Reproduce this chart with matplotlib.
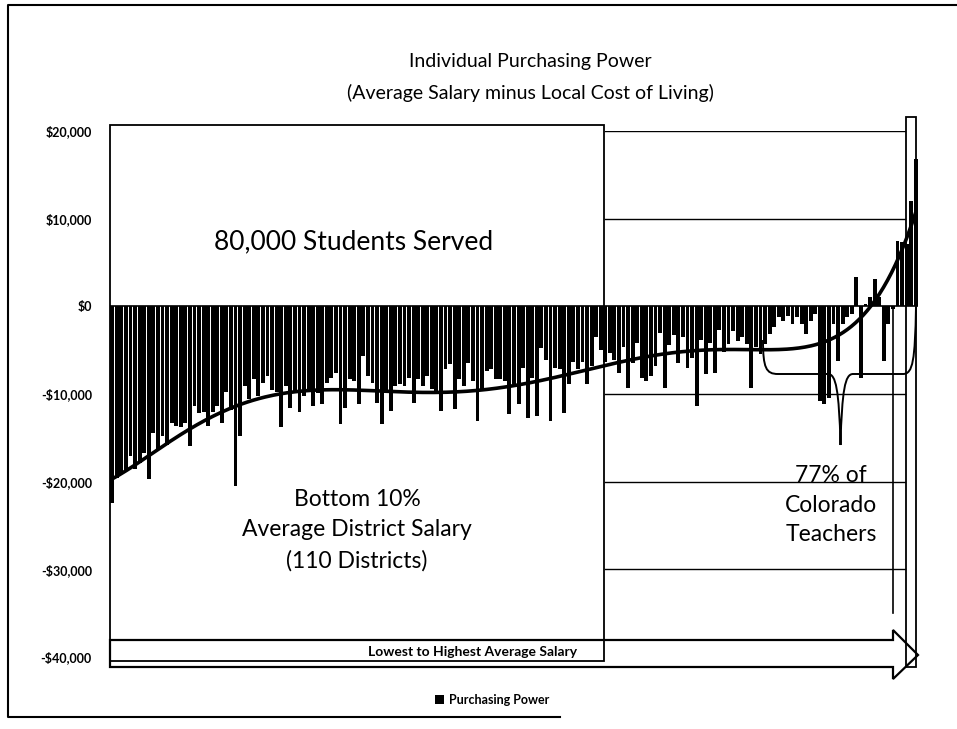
import numpy as np
import matplotlib.pyplot as plt
from matplotlib.patches import Rectangle, Polygon, PathPatch
from matplotlib.path import Path
from matplotlib.ticker import FuncFormatter

plt.rcParams['font.family'] = ['Lato', 'DejaVu Sans']

# purchasing power per district (avg salary minus local cost of living),
# districts sorted from lowest to highest average salary
power_low = [-22400, -19550, -19000, -18800, -17100, -18600, -17900, -16700, -19700, -14400,
             -16300, -14800, -15800, -13300, -13700, -13800, -13300, -15900, -11400, -12200,
             -12000, -13700, -12000, -11400, -13300, -9800, -11800, -20500, -14800, -9100,
             -10600, -8300, -10200, -8700, -7900, -9500, -9800, -13800, -9100, -11600,
             -9800, -12100, -10200]
power_mid = [-9460, -11360, -9840, -11170, -8690, -8120, -7550, -13460, -11550, -8310,
             -8500, -11170, -5650, -7930, -8690, -10980, -13460, -9840, -11930, -9070,
             -8880, -9070, -8120, -10980, -8310, -9070, -7930, -9460, -9840, -11930,
             -7170, -6600, -11740, -8310, -9070, -6410, -8500, -13080, -9460, -7360,
             -7170, -8310, -8310]
power_upper = [-8500, -12310, -8880, -11170, -6980, -12690, -8120, -12500, -4790, -6120,
               -13080, -6980, -7170, -12120, -8880, -6310, -7170, -6310, -8880, -6790,
               -3460, -4980, -6310, -5360, -6120, -7550, -4600, -9270, -6410, -4220,
               -8120, -8500, -7930, -6790, -3080, -9270, -4410, -3270, -6410, -3460,
               -6980, -5840, -11360, -3840, -7740, -4220, -7550, -2700, -5170]
power_top = [-4310, -2790, -3930, -3550, -4310, -9260, -4690, -5450, -4310, -3170,
             -2410, -1270, -1650, -1080, -2030, -1270, -2030, -3170, -1650, -890,
             -10780, -11160, -10400, -2030, -6220, -2030, -1270, -890, 3300, -8120,
             250, 1010, 3110, 1010, -6220, -2030, -320, 7490, 7300, 7110,
             12060, 16820]

values = np.array(power_low + power_mid + power_upper + power_top)
n = len(values)
x = np.arange(n)

W, H = 957, 729
fig = plt.figure(figsize=(W / 100, H / 100), dpi=100)

# plot area in pixels: x 110..918, y 131..657
px_l, px_r, px_t, px_b = 110, 918, 131, 657
ax = fig.add_axes([px_l / W, 1 - px_b / H, (px_r - px_l) / W, (px_b - px_t) / H])


def fx(px):
    return (px - px_l) / (px_r - px_l)


ax.bar(x, values, width=0.85, color='black', zorder=2, label='Purchasing Power')
coef = np.polyfit(x, values, 6)
xs = np.linspace(0, n - 1, 400)
ax.plot(xs, np.polyval(coef, xs), color='black', lw=2.6, zorder=3)
ax.axhline(0, color='black', lw=1.2, zorder=2.5)

# gridlines only show right of the left text box
for g in range(-30000, 20001, 10000):
    if g != 0:
        ax.axhline(g, xmin=fx(605), xmax=fx(905), color='black', lw=1.0, zorder=0.5)

ax.set_xlim(-0.5, n - 0.5)
ax.set_ylim(-40000, 20000)
ax.set_yticks(range(-40000, 20001, 10000))
ax.yaxis.set_major_formatter(FuncFormatter(
    lambda v, p: f"${v:,.0f}" if v >= 0 else f"-${-v:,.0f}"))
ax.set_xticks([])
ax.tick_params(axis='y', length=0, pad=13, labelsize=9)
for lab in ax.get_yticklabels():
    lab.set_fontweight('bold')
for s in ax.spines.values():
    s.set_visible(False)
ax.patch.set_alpha(0)

ax.legend(loc='center', bbox_to_anchor=(492 / W, 1 - 700 / H), bbox_transform=fig.transFigure,
          frameon=False, prop={'weight': 'bold', 'size': 9},
          handlelength=0.75, handleheight=0.75, handletextpad=0.4)

# overlay for the shapes and text boxes, pixel coordinates
ov = fig.add_axes([0, 0, 1, 1], zorder=5)
ov.set_xlim(0, W)
ov.set_ylim(H, 0)
ov.axis('off')
ov.patch.set_alpha(0)

ov.plot([957, 8, 8, 560], [5, 5, 717, 717], color='black', lw=1.5)

ov.text(530, 61, 'Individual Purchasing Power', ha='center', va='center', fontsize=14)
ov.text(530, 93, '(Average Salary minus Local Cost of Living)', ha='center', va='center', fontsize=14)

# arrow along the bottom
arrow_pts = [(110, 640), (893, 640), (893, 630), (918, 655), (893, 679), (893, 667), (110, 667)]
ov.add_patch(Polygon(arrow_pts, closed=True, fc='white', ec='black', lw=1.6))
ov.text(473, 652, 'Lowest to Highest Average Salary', ha='center', va='center',
        fontsize=10, fontweight='bold')

# boxes
ov.add_patch(Rectangle((110, 125), 494, 536, fill=False, ec='black', lw=1.3))
ov.add_patch(Rectangle((905.5, 117), 10, 550, fill=False, ec='black', lw=1.3))
ov.plot([893, 893], [307, 613], color='black', lw=1.2)

# brace under the top districts
verts = [(763, 340), (763, 368), (766, 374), (778, 374),
         (828, 374),
         (836, 374), (839, 390), (840.5, 445),
         (842, 390), (845, 374), (853, 374),
         (903, 374),
         (913, 374), (915, 360), (916, 307)]
codes = [Path.MOVETO, Path.CURVE4, Path.CURVE4, Path.CURVE4,
         Path.LINETO,
         Path.CURVE4, Path.CURVE4, Path.CURVE4,
         Path.CURVE4, Path.CURVE4, Path.CURVE4,
         Path.LINETO,
         Path.CURVE4, Path.CURVE4, Path.CURVE4]
ov.add_patch(PathPatch(Path(verts, codes), fill=False, ec='black', lw=1.4))

ov.text(354, 242, '80,000 Students Served', ha='center', va='center', fontsize=19)
ov.text(357, 530, 'Bottom 10%\nAverage District Salary\n(110 Districts)', ha='center', va='center',
        fontsize=16.5, linespacing=1.55)
ov.text(831, 505, '77% of\nColorado\nTeachers', ha='center', va='center',
        fontsize=16.5, linespacing=1.5)

fig.savefig('out.png', dpi=100)
